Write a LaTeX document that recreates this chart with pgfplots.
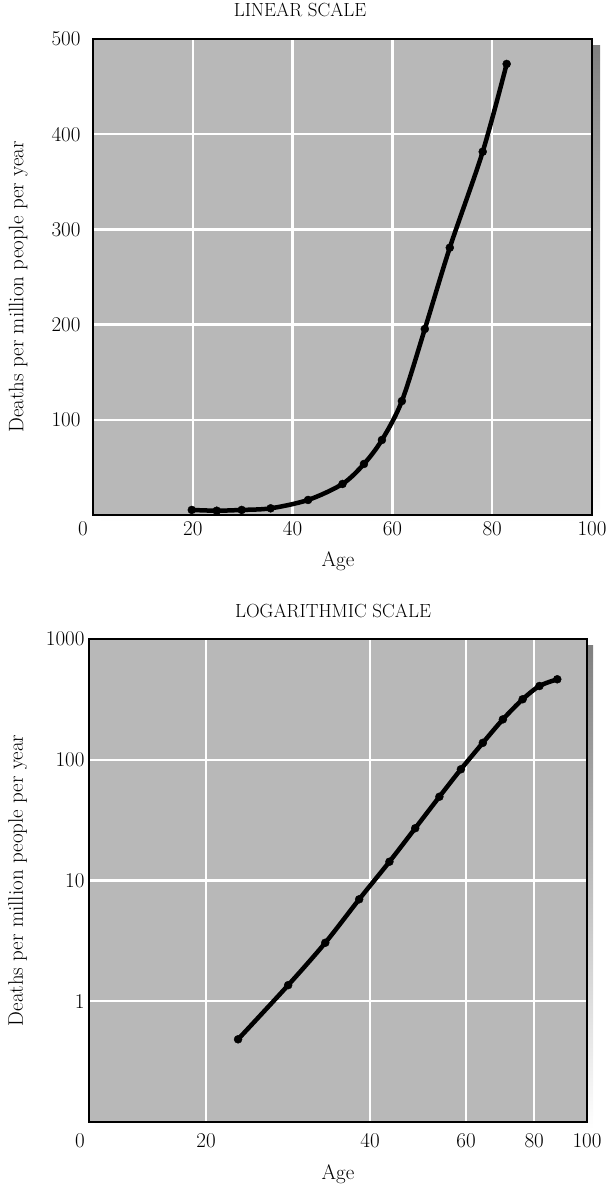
\documentclass[border=0pt]{standalone}
\usepackage{pgfplots}
\pgfplotsset{compat=1.18}
\definecolor{panel}{gray}{0.72}
\definecolor{shade}{gray}{0.40}

\newcommand\tickfont{\fontsize{21}{24}\selectfont}
\newcommand\labfont{\fontsize{21}{24}\selectfont}
\newcommand\titfont{\fontsize{19}{22}\selectfont}

\pgfplotsset{
  deathpanel/.style={
    scale only axis,
    tick label style={font=\tickfont},
    label style={font=\labfont},
    title style={font=\titfont},
    axis background/.style={fill=panel},
    grid=major, grid style={white,line width=2.4pt},
    major tick length=0pt, minor tick length=0pt,
    axis line style={line width=1.4pt},
    /pgf/number format/assume math mode=true,
  },
  deathcurve/.style={black,line width=4.5pt,smooth,
    mark=*,mark size=4pt,mark options={black,fill=black,line width=0.4pt}},
}

\begin{document}
\begin{tikzpicture}[x=1pt,y=1pt]
\useasboundingbox (0,0) rectangle (612,1185);

% drop shadows behind the two panels
\fill[shade] (101,663) rectangle (600,1139);
\fill[shade] (95,56) rectangle (593,539);

% linear scale
\begin{axis}[deathpanel,
  at={(93pt,670pt)},anchor=south west,
  width=499pt,height=476pt,
  xmin=0,xmax=100,ymin=0,ymax=500,
  xtick={20,40,60,80,100},
  ytick={100,200,300,400,500},
  extra x ticks={0},extra x tick labels={0},
  extra x tick style={grid=none,xticklabel style={xshift=-10pt}},
  xticklabel shift=3pt, yticklabel shift=9pt,
  title={LINEAR SCALE},
  title style={at={(rel axis cs:0.415,1)},anchor=center,yshift=23pt},
  xlabel={Age},
  xlabel style={at={(rel axis cs:0.491,0)},anchor=center,yshift=-46pt},
  ylabel={Deaths per million people per year},
  every axis y label/.style={at={(rel axis cs:-0.150,0.479)},rotate=90,anchor=center,font=\labfont},
]
\addplot[deathcurve] coordinates {
 (19.8,5.3) (24.8,4.5) (29.8,5.3) (35.6,7.0) (43.1,15.8) (50.0,32.6)
 (54.3,53.6) (57.9,78.8) (61.9,119.7) (66.5,195.4) (71.5,280.8)
 (78.1,381.6) (82.9,473.8)};
\end{axis}

% logarithmic scale
\begin{axis}[deathpanel,
  at={(89pt,63pt)},anchor=south west,
  width=498pt,height=483pt,
  xmode=log,ymode=log,
  xmin=12.2,xmax=100,ymin=0.1,ymax=1000,
  xtick={20,40,60,80,100},xticklabels={20,40,60,80,100},
  ytick={1,10,100,1000},yticklabels={1,10,100,1000},
  extra x ticks={12.2},extra x tick labels={0},
  extra x tick style={grid=none,xticklabel style={xshift=-9pt}},
  xticklabel shift=8pt, yticklabel shift=1pt,
  title={LOGARITHMIC SCALE},
  title style={at={(rel axis cs:0.49,1)},anchor=center,yshift=22pt},
  xlabel={Age},
  xlabel style={at={(rel axis cs:0.5,0)},anchor=center,yshift=-52pt},
  ylabel={Deaths per million people per year},
  every axis y label/.style={at={(rel axis cs:-0.143,0.5)},rotate=90,anchor=center,font=\labfont},
]
\addplot[deathcurve] coordinates {
 (22.9,0.484) (28.3,1.36) (33.1,3.05) (38.2,6.99) (43.4,14.3) (48.4,27.1)
 (53.6,49.4) (58.7,83.4) (64.4,138) (70.1,216) (76.2,317)
 (81.8,408) (88.2,464)};
\end{axis}
\end{tikzpicture}
\end{document}
